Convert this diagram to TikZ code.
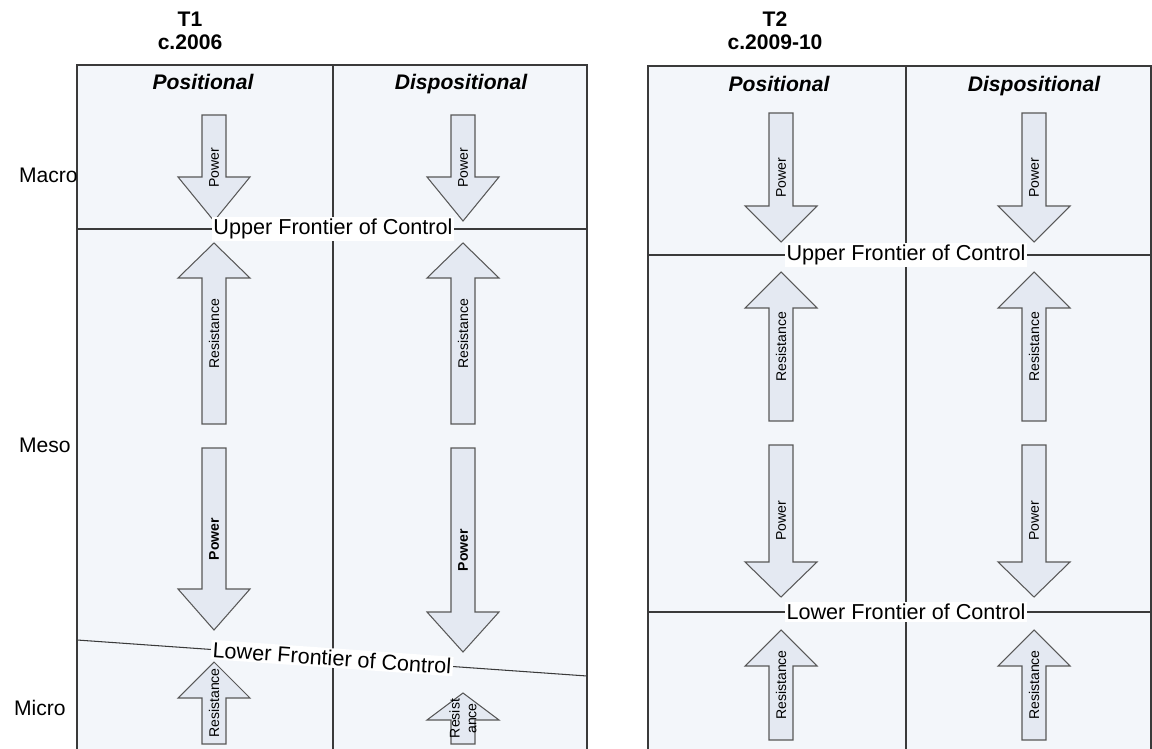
\documentclass[tikz,border=0pt]{standalone}
\usepackage{fontspec}
\setmainfont{Liberation Sans}
\usetikzlibrary{positioning}
\definecolor{panelfill}{HTML}{F3F6FA}
\definecolor{arrowfill}{HTML}{E4E9F2}
\definecolor{edge}{HTML}{3A3A3A}
\newcommand{\blockarrow}[6]{%
  \draw[arrowbody] (#2-12,#3) -- (#2-12,#4) -- (#2-36,#4) -- (#2,#5) -- (#2+36,#4) -- (#2+12,#4) -- (#2+12,#3) -- cycle;
  \node[arrowlabel] (#1) at (#2,{(#3+#5)/2}) {#6};}
\begin{document}
\begin{tikzpicture}[x=0.02cm,y=-0.02cm,
  rule/.style={draw=edge,line width=0.6pt},
  arrowbody/.style={fill=arrowfill,draw=edge!85,line width=0.6pt},
  arrowlabel/.style={rotate=90,font=\fontsize{8}{9.5}\selectfont,inner sep=0pt,align=center},
  frontier/.style={fill=white,inner sep=1pt,font=\fontsize{12.3}{14}\selectfont},
  colhead/.style={font=\fontsize{12}{14}\selectfont\bfseries\itshape,anchor=base},
  period/.style={font=\fontsize{12}{13}\selectfont\bfseries,align=center},
  level/.style={font=\fontsize{12}{14}\selectfont,anchor=east,inner sep=0pt}]
\useasboundingbox (0,0) rectangle (1152,749);
\fill[panelfill] (77,65) rectangle (587,749);
\fill[panelfill] (648,66) rectangle (1152,749);
\draw[rule] (77,749) |- (587,65) -- (587,749);
\draw[rule] (648,749) |- (1151,66) -- (1151,749);
\draw[rule] (333,65) -- (333,749);
\draw[rule] (906,66) -- (906,749);
\node[period] (t1) at (190,31) {T1\\c.2006};
\node[period] (t2) at (775,31) {T2\\c.2009-10};
\node[colhead] (t1pos) at (203,90) {Positional};
\node[colhead] (t1disp) at (461,90) {Dispositional};
\node[colhead] (t2pos) at (779,92) {Positional};
\node[colhead] (t2disp) at (1034,92) {Dispositional};
\node[level] (macro) at (78,175) {Macro};
\node[level] (meso) at (71,445) {Meso};
\node[level] (micro) at (66,708) {Micro};
\blockarrow{t1powA}{214}{115}{177}{221}{Power}
\blockarrow{t1powB}{463}{115}{177}{221}{Power}
\blockarrow{t1resA}{214}{424}{278}{243}{Resistance}
\blockarrow{t1resB}{463}{424}{278}{243}{Resistance}
\blockarrow{t1powC}{214}{448}{589}{630}{\textbf{Power}}
\blockarrow{t1powD}{463}{448}{612}{652}{\textbf{Power}}
\blockarrow{t1resC}{214}{744}{698}{662}{Resistance}
\blockarrow{t1resD}{463}{744}{720}{693}{Resist\\ance}
\blockarrow{t2powA}{781}{113}{206}{242}{Power}
\blockarrow{t2powB}{1034}{113}{206}{242}{Power}
\blockarrow{t2resA}{781}{421}{308}{272}{Resistance}
\blockarrow{t2resB}{1034}{421}{308}{272}{Resistance}
\blockarrow{t2powC}{781}{445}{562}{597}{Power}
\blockarrow{t2powD}{1034}{445}{562}{597}{Power}
\blockarrow{t2resC}{781}{740}{666}{630}{Resistance}
\blockarrow{t2resD}{1034}{740}{666}{630}{Resistance}
\draw[rule] (77,229) -- (587,229);
\node[frontier] (t1upper) at (333,229) {Upper Frontier of Control};
\draw[rule] (77,640) -- node[frontier,sloped] (t1lower) {Lower Frontier of Control} (587,676);
\draw[rule] (648,255) -- (1151,255);
\node[frontier] (t2upper) at (906,255) {Upper Frontier of Control};
\draw[rule] (648,612) -- (1151,612);
\node[frontier] (t2lower) at (906,612) {Lower Frontier of Control};
\end{tikzpicture}
\end{document}
